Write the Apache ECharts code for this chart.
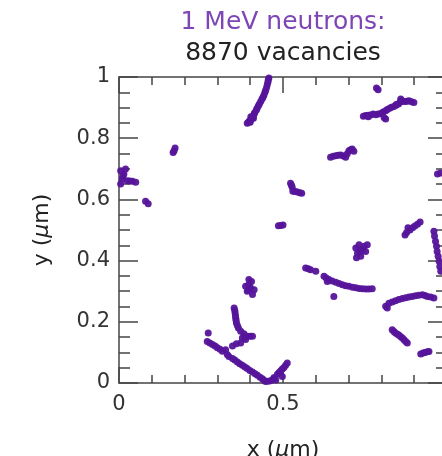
<!DOCTYPE html>
<html>
<head>
<meta charset="utf-8">
<script src="https://cdn.jsdelivr.net/npm/echarts@6/dist/echarts.min.js"></script>
<style>html,body{margin:0;padding:0;background:#fff}#c{width:442px;height:456px}</style>
</head>
<body>
<div id="c"></div>
<script>
// Title texts
const titleLine1 = '1 MeV neutrons:';
const titleLine2 = '8870 vacancies';

// Vacancy clusters, [x (μm), y (μm)]
const clusterA = [[0.457,0.997],[0.455,0.990],[0.454,0.983],[0.452,0.975],[0.450,0.966],[0.447,0.957],[0.445,0.950],[0.442,0.941],[0.439,0.934],[0.436,0.928],[0.432,0.920],[0.428,0.912],[0.425,0.906],[0.421,0.898],[0.419,0.892],[0.414,0.884],[0.412,0.879],[0.409,0.872],[0.407,0.868],[0.403,0.862],[0.398,0.857],[0.395,0.853],[0.391,0.849],[0.410,0.865],[0.402,0.870],[0.400,0.852]];
const clusterB = [[0.785,0.964],[0.790,0.958]];
const clusterC = [[0.745,0.872],[0.752,0.874],[0.760,0.875],[0.767,0.876],[0.775,0.879],[0.783,0.877],[0.790,0.879],[0.798,0.881],[0.805,0.886],[0.813,0.890],[0.818,0.894],[0.825,0.898],[0.831,0.901],[0.838,0.904],[0.845,0.908],[0.852,0.912],[0.857,0.918],[0.862,0.922],[0.859,0.928],[0.866,0.921],[0.872,0.920],[0.878,0.921],[0.884,0.922],[0.892,0.919],[0.899,0.917],[0.808,0.868],[0.813,0.863],[0.760,0.870],[0.845,0.910]];
const clusterD = [[0.165,0.753],[0.168,0.759],[0.171,0.768]];
const clusterE = [[0.005,0.694],[0.020,0.699],[0.015,0.683],[0.010,0.667],[0.005,0.650],[0.025,0.661],[0.033,0.660],[0.041,0.659],[0.051,0.656],[0.012,0.676]];
const clusterF = [[0.081,0.594],[0.089,0.586]];
const clusterG = [[0.645,0.738],[0.653,0.741],[0.661,0.743],[0.668,0.744],[0.676,0.745],[0.684,0.742],[0.691,0.738],[0.696,0.749],[0.701,0.759],[0.706,0.762],[0.711,0.765],[0.716,0.757]];
const clusterH = [[0.523,0.653],[0.526,0.646],[0.528,0.640],[0.530,0.627],[0.537,0.626],[0.544,0.624],[0.551,0.622],[0.557,0.620]];
const clusterI = [[0.486,0.514],[0.493,0.515],[0.500,0.516]];
const clusterJ = [[0.872,0.484],[0.877,0.492],[0.881,0.507],[0.887,0.500],[0.895,0.507],[0.902,0.513],[0.910,0.519],[0.918,0.526]];
const clusterK = [[0.960,0.496],[0.962,0.480],[0.965,0.463],[0.968,0.447],[0.970,0.430],[0.973,0.414],[0.976,0.398],[0.978,0.381],[0.981,0.365],[0.971,0.683],[0.980,0.686]];
const clusterL = [[0.722,0.441],[0.732,0.452],[0.747,0.447],[0.757,0.452],[0.727,0.425],[0.737,0.414],[0.752,0.430],[0.724,0.409],[0.742,0.436],[0.735,0.430]];
const clusterM = [[0.569,0.376],[0.577,0.373],[0.584,0.370],[0.600,0.365],[0.625,0.349],[0.632,0.343],[0.640,0.338],[0.650,0.333],[0.661,0.329],[0.671,0.325],[0.681,0.321],[0.691,0.318],[0.701,0.316],[0.712,0.313],[0.722,0.311],[0.732,0.309],[0.742,0.308],[0.752,0.307],[0.762,0.307],[0.772,0.308],[0.635,0.332],[0.655,0.283]];
const clusterN = [[0.396,0.338],[0.404,0.332],[0.386,0.316],[0.401,0.311],[0.412,0.305],[0.391,0.300],[0.407,0.289],[0.396,0.321],[0.395,0.305]];
const clusterO = [[0.813,0.251],[0.818,0.245],[0.823,0.261],[0.833,0.265],[0.843,0.269],[0.853,0.273],[0.864,0.276],[0.874,0.279],[0.884,0.281],[0.894,0.283],[0.904,0.285],[0.914,0.287],[0.925,0.288],[0.933,0.286],[0.940,0.283],[0.950,0.281],[0.960,0.278]];
const clusterP = [[0.351,0.245],[0.353,0.237],[0.354,0.229],[0.355,0.220],[0.356,0.212],[0.357,0.204],[0.358,0.196],[0.361,0.188],[0.364,0.180],[0.371,0.169],[0.381,0.161],[0.391,0.153],[0.400,0.153],[0.407,0.153],[0.386,0.142],[0.376,0.147],[0.371,0.131],[0.358,0.128],[0.346,0.121],[0.384,0.150],[0.272,0.163]];
const clusterQ = [[0.269,0.136],[0.277,0.131],[0.285,0.126],[0.293,0.121],[0.300,0.115],[0.308,0.110],[0.315,0.104],[0.325,0.109],[0.330,0.093],[0.335,0.087],[0.346,0.080],[0.353,0.075],[0.361,0.069],[0.368,0.063],[0.376,0.058],[0.384,0.052],[0.391,0.047],[0.399,0.041],[0.407,0.036],[0.415,0.030],[0.422,0.025],[0.430,0.019],[0.437,0.014],[0.442,0.009],[0.447,0.005],[0.455,0.006],[0.462,0.007],[0.470,0.013],[0.473,0.018],[0.478,0.010],[0.483,0.029],[0.488,0.034],[0.493,0.040],[0.498,0.021],[0.498,0.046],[0.503,0.051],[0.508,0.058],[0.513,0.065]];
const clusterR = [[0.833,0.174],[0.838,0.168],[0.843,0.163],[0.849,0.159],[0.854,0.156],[0.859,0.151],[0.864,0.147],[0.869,0.141],[0.874,0.136],[0.879,0.131]];
const clusterS = [[0.920,0.095],[0.927,0.098],[0.933,0.100],[0.940,0.102],[0.945,0.103]];

const vacancies = [].concat(clusterA, clusterB, clusterC, clusterD, clusterE, clusterF, clusterG, clusterH,
  clusterI, clusterJ, clusterK, clusterL, clusterM, clusterN, clusterO, clusterP, clusterQ, clusterR, clusterS);

const axisColor = '#444';
const font = 'DejaVu Sans';
const nameRich = { a: { fontSize: 22, fontFamily: font, color: '#222' }, b: { fontSize: 22, fontFamily: font, fontStyle: 'italic', color: '#222' } };

function xAx(pos, showLabel) {
  return {
    type: 'value', position: pos, min: 0, max: 1, interval: 0.5,
    axisLine: { show: true, onZero: false, lineStyle: { color: axisColor, width: 1.5 } },
    axisTick: { show: true, inside: true, length: 16, lineStyle: { color: axisColor, width: 1.5 } },
    minorTick: { show: true, splitNumber: 5, length: 8, lineStyle: { color: axisColor, width: 1.5 } },
    splitLine: { show: false },
    axisLabel: { show: showLabel, color: '#333', fontSize: 21, fontFamily: font, margin: 11,
      hideOverlap: false, formatter: v => String(v) },
    name: showLabel ? '{a|x (}{b|μ}{a|m)}' : '',
    nameLocation: 'middle', nameGap: 56,
    nameTextStyle: { rich: nameRich }
  };
}
function yAx(pos, showLabel) {
  return {
    type: 'value', position: pos, min: 0, max: 1, interval: 0.2,
    axisLine: { show: true, onZero: false, lineStyle: { color: axisColor, width: 1.5 } },
    axisTick: { show: true, inside: true, length: 19, lineStyle: { color: axisColor, width: 1.5 } },
    minorTick: { show: true, splitNumber: 4, length: 11, lineStyle: { color: axisColor, width: 1.5 } },
    splitLine: { show: false },
    axisLabel: { show: showLabel, color: '#333', fontSize: 21, fontFamily: font, margin: 9,
      formatter: v => String(Math.round(v * 10) / 10) },
    name: showLabel ? '{a|y (}{b|μ}{a|m)}' : '',
    nameLocation: 'middle', nameGap: 66,
    nameTextStyle: { rich: nameRich }
  };
}

const chart = echarts.init(document.getElementById('c'));
chart.setOption({
  backgroundColor: '#fff',
  animation: false,
  grid: { left: 119, top: 77, width: 328, height: 306, outerBoundsMode: 'none', containLabel: false },
  xAxis: [xAx('bottom', true), xAx('top', false)],
  yAxis: [yAx('left', true), yAx('right', false)],
  graphic: [
    { type: 'text', x: 283, y: 22, style: { text: titleLine1, fill: '#7d45b5', font: '25px "DejaVu Sans"', textAlign: 'center', textVerticalAlign: 'middle' } },
    { type: 'text', x: 283, y: 53, style: { text: titleLine2, fill: '#222', font: '25px "DejaVu Sans"', textAlign: 'center', textVerticalAlign: 'middle' } }
  ],
  series: [{
    type: 'scatter', xAxisIndex: 0, yAxisIndex: 0,
    data: vacancies, symbol: 'circle', symbolSize: 7,
    itemStyle: { color: '#55149a', opacity: 0.95 },
    clip: false
  }]
});
</script>
</body>
</html>
